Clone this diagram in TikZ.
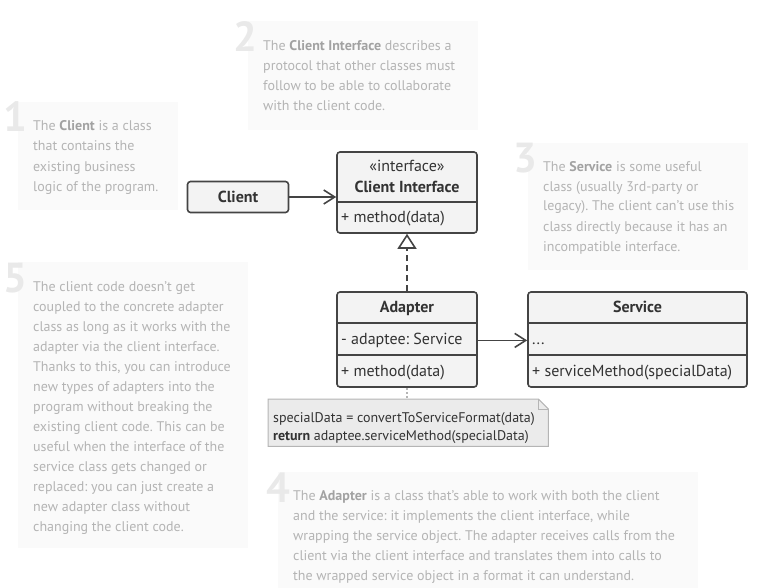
\documentclass[tikz,border=0pt]{standalone}
\usepackage{fontspec}
\setmainfont{PT Sans}
\usetikzlibrary{arrows.meta,positioning}
\frenchspacing

\definecolor{notebg}{HTML}{FAFAFA}
\definecolor{notetxt}{HTML}{B4B4B4}
\definecolor{notebold}{HTML}{A2A2A2}
\definecolor{notenum}{HTML}{E9E9E9}
\definecolor{boxline}{HTML}{444444}
\definecolor{boxfill}{HTML}{F3F3F3}
\definecolor{boxtxt}{HTML}{333333}
\definecolor{codefill}{HTML}{EBEBEB}
\definecolor{codeline}{HTML}{B5B5B5}

\newcommand{\nb}[1]{{\bfseries\color{notebold}#1}}

\tikzset{
  umlbox/.style={draw=boxline, fill=boxfill, line width=1.6pt, rounded corners=3pt, inner sep=0pt},
  umltxt/.style={inner sep=0pt, text=boxtxt, font=\fontsize{16}{18}\selectfont},
  % anchor base = baseline of the last line
  notetext/.style={inner sep=0pt, anchor=base west, align=left, text=notetxt, font=\fontsize{14}{20}\selectfont},
  notenum/.style={inner sep=0pt, anchor=base east, text=notenum, font=\fontsize{42}{42}\selectfont\bfseries},
  assoc/.style={draw=boxline, line width=1.6pt, -{Straight Barb[length=11pt,width=14pt,line width=1.6pt]}},
  realize/.style={draw=boxline, line width=1.6pt, dash pattern=on 6pt off 4pt, -{Triangle[open,length=15pt,width=19pt,line width=1.6pt]}},
}

\begin{document}
\begin{tikzpicture}[x=1pt,y=-1pt]
\useasboundingbox (0,0) rectangle (757,588);

% note backgrounds
\fill[notebg] (18,102) rectangle (178,210);
\fill[notebg] (248,21) rectangle (478,130);
\fill[notebg] (528,143) rectangle (748,270);
\fill[notebg] (18,262) rectangle (248,548);
\fill[notebg] (278,472) rectangle (698,588);

% notes
\node[notenum] at (28,132) {1};
\node[notetext] (n1) at (33,191) {The \nb{Client} is a class\\that contains the\\existing business\\logic of the program.};
\node[notenum] at (258,52) {2};
\node[notetext] (n2) at (263,111) {The \nb{Client Interface} describes a\\protocol that other classes must\\follow to be able to collaborate\\with the client code.};
\node[notenum] at (538,172) {3};
\node[notetext] (n3) at (543,251) {The \nb{Service} is some useful\\class (usually 3rd-party or\\legacy). The client can’t use this\\class directly because it has an\\incompatible interface.};
\node[notenum] at (291,502) {4};
\node[notetext] (n4) at (293,580) {The \nb{Adapter} is a class that’s able to work with both the client\\and the service: it implements the client interface, while\\wrapping the service object. The adapter receives calls from the\\client via the client interface and translates them into calls to\\the wrapped service object in a format it can understand.};
\node[notenum] at (28,292) {5};
\node[notetext] (n5) at (33,531) {The client code doesn’t get\\coupled to the concrete adapter\\class as long as it works with the\\adapter via the client interface.\\Thanks to this, you can introduce\\new types of adapters into the\\program without breaking the\\existing client code. This can be\\useful when the interface of the\\service class gets changed or\\replaced: you can just create a\\new adapter class without\\changing the client code.};

% classes
\node[umlbox, minimum width=101pt, minimum height=31pt] (client) at (238,197) {};
\node[umltxt, anchor=base] at (238,202.5) {\bfseries Client};

\node[umlbox, minimum width=140pt, minimum height=81pt] (iface) at (407,192.5) {};
\node[umltxt, anchor=base] at (407,171.5) {«interface»};
\node[umltxt, anchor=base] at (407,192.5) {\bfseries Client Interface};
\draw[boxline, line width=1.6pt] (iface.west |- 0,202) -- (iface.east |- 0,202);
\node[umltxt, anchor=base west] at (341,222.5) {+ method(data)};

\node[umlbox, minimum width=140pt, minimum height=95pt] (adapter) at (407,339.5) {};
\node[umltxt, anchor=base] at (407,312.5) {\bfseries Adapter};
\draw[boxline, line width=1.6pt] (adapter.west |- 0,323) -- (adapter.east |- 0,323);
\draw[boxline, line width=1.6pt] (adapter.west |- 0,355) -- (adapter.east |- 0,355);
\node[umltxt, anchor=base west] (adaptee) at (341,344.5) {- adaptee: Service};
\node[umltxt, anchor=base west] at (341,376.5) {+ method(data)};

\node[umlbox, minimum width=219pt, minimum height=95pt] (service) at (637.5,339.5) {};
\node[umltxt, anchor=base] at (637.5,312.5) {\bfseries Service};
\draw[boxline, line width=1.6pt] (service.west |- 0,323) -- (service.east |- 0,323);
\draw[boxline, line width=1.6pt] (service.west |- 0,355) -- (service.east |- 0,355);
\node[umltxt, anchor=base west] at (532,344.5) {...};
\node[umltxt, anchor=base west] at (532,376.5) {+ serviceMethod(specialData)};

% code note
\node[inner sep=0pt, anchor=north west, minimum width=280pt, minimum height=47pt] (code) at (268,399) {};
\draw[codeline, fill=codefill, line width=1pt] (code.north west) -- ([xshift=-10pt]code.north east) -- ([yshift=-10pt]code.north east) -- (code.south east) -- (code.south west) -- cycle;
\draw[codeline, line width=1pt] ([xshift=-10pt]code.north east) -- ([xshift=-10pt,yshift=-10pt]code.north east) -- ([yshift=-10pt]code.north east);
\node[inner sep=0pt, anchor=base west, align=left, text=boxtxt, font=\fontsize{14}{18}\selectfont] at (273,440) {specialData = convertToServiceFormat(data)\\\textbf{return} adaptee.serviceMethod(specialData)};

% connectors
\draw[assoc] (client.east) -- (iface.west |- client.east);
\draw[assoc] (adapter.east |- adaptee) -- (service.west |- adaptee);
\draw[realize] (adapter.north) -- (iface.south);
\draw[codeline, line width=1.2pt, dash pattern=on 2pt off 2pt] (adapter.south) -- (adapter.south |- code.north);

\end{tikzpicture}
\end{document}
